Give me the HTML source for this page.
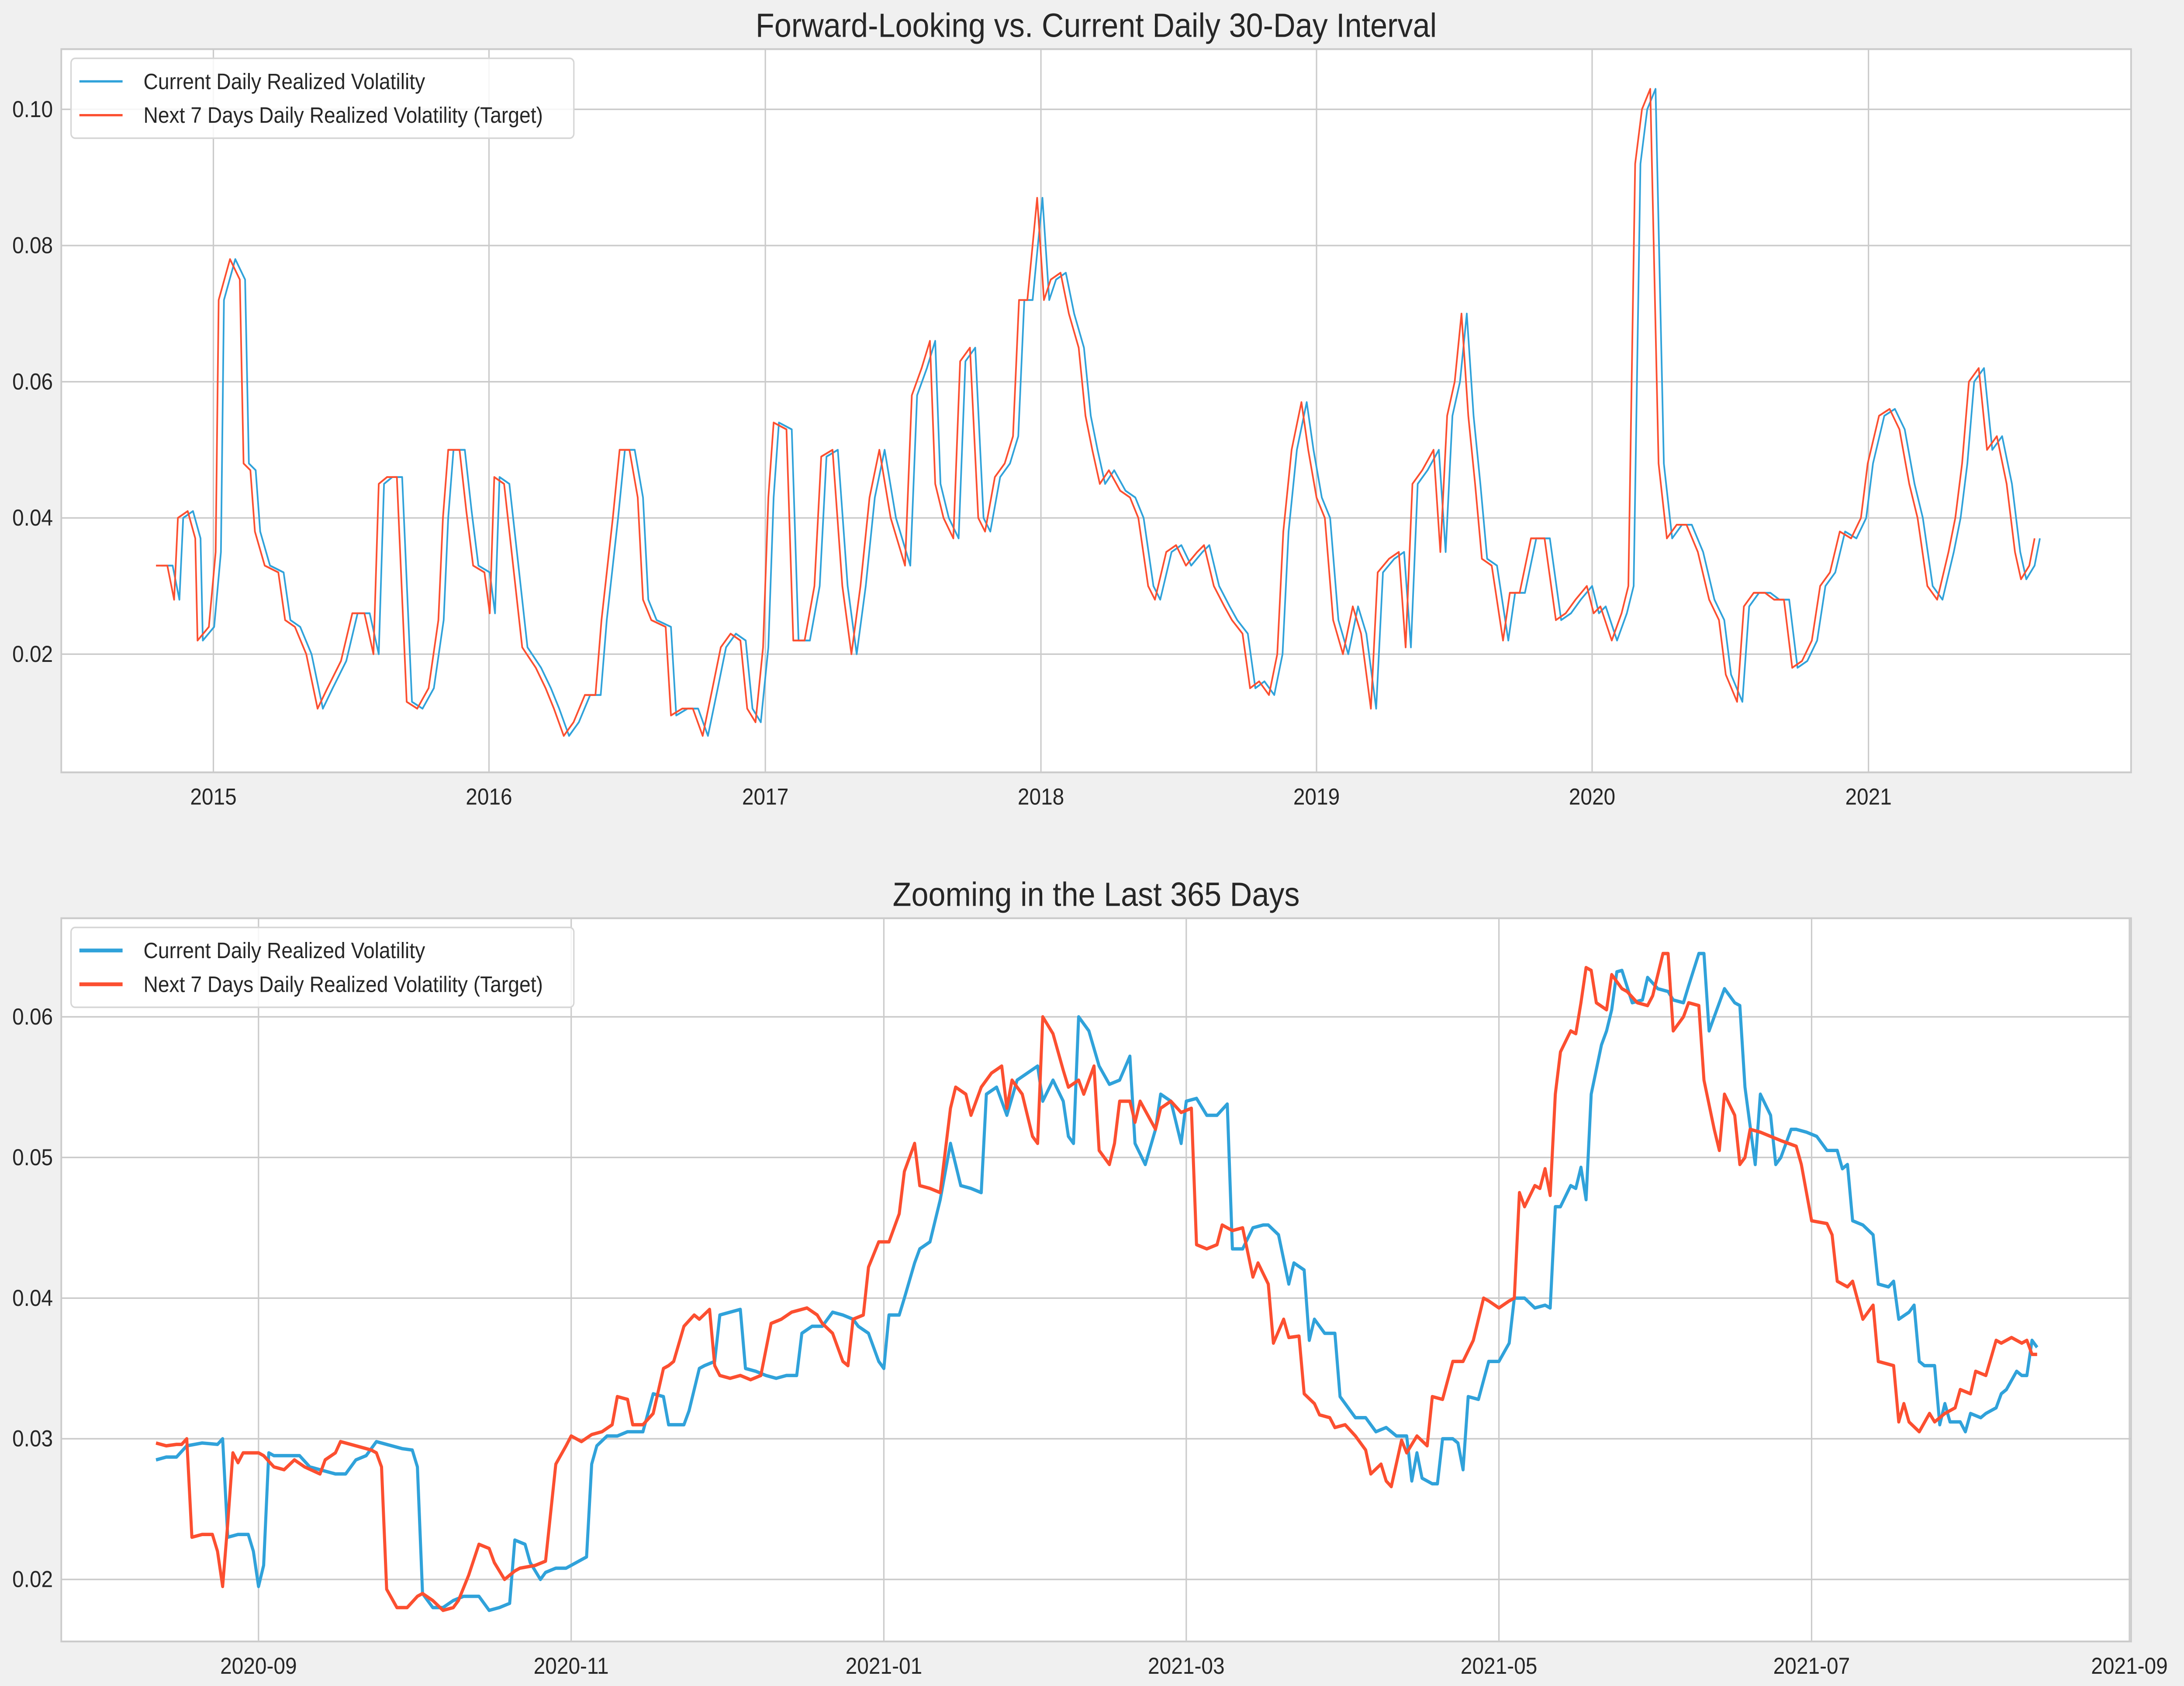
<!DOCTYPE html>
<html><head><meta charset="utf-8">
<style>
html,body{margin:0;padding:0;background:#f0f0f0;width:100%;height:100%;overflow:hidden;}
svg{display:block;position:fixed;left:0;top:0;width:100vw;height:100vh;font-family:"Liberation Sans",sans-serif;}
</style></head>
<body>
<svg id="fig" viewBox="0 0 1568 1098" preserveAspectRatio="none" xmlns="http://www.w3.org/2000/svg">
<rect x="0" y="0" width="1568" height="1098" fill="#f0f0f0"/>
<g id="top"></g>
<g id="bottom"></g>
</svg>
<script>
// ---------- TOP CHART DATA (days since 2014-10-17) ----------
const topDays = [0,15,24,29,42,52,55,70,79,83,98,111,116,125,131,144,162,171,184,199,214,227,245,260,276,288,295,306,319,332,346,361,374,380,387,402,411,420,435,442,448,461,475,485,503,516,527,540,553,568,582,590,605,614,627,638,645,656,675,682,697,711,724,737,748,761,774,783,794,804,811,818,835,844,859,872,881,896,909,921,933,945,958,973,992,1001,1014,1025,1032,1043,1056,1065,1078,1089,1098,1111,1124,1135,1143,1154,1167,1176,1185,1198,1209,1222,1231,1240,1250,1262,1277,1290,1301,1314,1323,1338,1351,1364,1379,1388,1401,1415,1425,1439,1449,1461,1474,1485,1493,1504,1517,1526,1537,1548,1559,1572,1585,1596,1609,1618,1633,1646,1655,1664,1677,1692,1701,1710,1720,1729,1738,1747,1756,1769,1784,1793,1806,1821,1839,1854,1867,1880,1895,1904,1913,1928,1941,1950,1959,1968,1979,1990,2001,2014,2027,2042,2057,2070,2079,2094,2103,2116,2131,2143,2156,2167,2180,2193,2204,2217,2230,2245,2258,2267,2282,2296,2309,2322,2333,2346,2359,2374,2383,2392,2401,2414,2425,2438,2451,2462,2470,2481,2488];
const topTarget = [0.033,0.033,0.028,0.040,0.041,0.037,0.022,0.024,0.035,0.072,0.078,0.075,0.048,0.047,0.038,0.033,0.032,0.025,0.024,0.020,0.012,0.015,0.019,0.026,0.026,0.020,0.045,0.046,0.046,0.013,0.012,0.015,0.025,0.040,0.050,0.050,0.041,0.033,0.032,0.026,0.046,0.045,0.031,0.021,0.018,0.015,0.012,0.008,0.010,0.014,0.014,0.025,0.040,0.050,0.050,0.043,0.028,0.025,0.024,0.011,0.012,0.012,0.008,0.015,0.021,0.023,0.022,0.012,0.010,0.021,0.043,0.054,0.053,0.022,0.022,0.030,0.049,0.050,0.030,0.020,0.030,0.043,0.050,0.040,0.033,0.058,0.062,0.066,0.045,0.040,0.037,0.063,0.065,0.040,0.038,0.046,0.048,0.052,0.072,0.072,0.087,0.072,0.075,0.076,0.070,0.065,0.055,0.050,0.045,0.047,0.044,0.043,0.040,0.030,0.028,0.035,0.036,0.033,0.035,0.036,0.030,0.027,0.025,0.023,0.015,0.016,0.014,0.020,0.038,0.050,0.057,0.050,0.043,0.040,0.025,0.020,0.027,0.023,0.012,0.032,0.034,0.035,0.021,0.045,0.047,0.050,0.035,0.055,0.060,0.070,0.055,0.045,0.034,0.033,0.022,0.029,0.029,0.037,0.037,0.025,0.026,0.028,0.030,0.026,0.027,0.022,0.026,0.030,0.092,0.100,0.103,0.048,0.037,0.039,0.039,0.035,0.028,0.025,0.017,0.013,0.027,0.029,0.029,0.028,0.028,0.018,0.019,0.022,0.030,0.032,0.038,0.037,0.040,0.048,0.055,0.056,0.053,0.045,0.040,0.030,0.028,0.035,0.040,0.048,0.060,0.062,0.050,0.052,0.045,0.035,0.031,0.033,0.037];
const topCurrent = topTarget.slice(); // realized series; plotted with forward lag
const topLagDays = 7;
const topYTicks = [0.02,0.04,0.06,0.08,0.10];
const topYLabels = ["0.02","0.04","0.06","0.08","0.10"];
const topXTickDays = [76,441,807,1172,1537,1902,2268];
const topXLabels = ["2015","2016","2017","2018","2019","2020","2021"];

// ---------- BOTTOM CHART DATA (days since 2020-08-12) ----------
const botTargetDays = [0,2,4,5,6,7,9,11,12,13,14,15,16,17,20,21,23,25,27,29,32,33,35,36,39,42,43,44,45,47,49,51,52,54,56,58,59,61,63,65,66,68,70,71,74,76,78,80,81,83,85,87,89,90,92,93,95,97,99,100,101,103,105,106,108,109,110,112,114,116,118,120,122,124,127,129,130,132,134,135,136,138,139,141,143,145,146,148,149,151,153,155,156,158,159,161,163,165,166,167,169,171,172,173,175,177,178,180,181,183,184,186,187,188,190,191,192,195,196,198,200,202,203,205,207,208,210,212,214,215,217,218,220,221,223,224,226,227,229,230,232,234,236,237,239,240,241,243,244,246,248,249,251,253,255,257,259,260,262,264,265,266,267,269,270,271,272,273,274,276,277,278,279,280,281,283,284,286,287,289,291,292,294,295,296,298,299,301,302,304,305,306,308,309,310,311,313,315,317,320,321,323,326,327,328,330,331,333,334,335,336,339,340,341,342,344,346,347,349,351,352,354,355,357,359,360,362,364,365,366,367];
const botTargetVals = [0.0297,0.0295,0.0296,0.0296,0.030,0.023,0.0232,0.0232,0.022,0.0195,0.024,0.029,0.0283,0.029,0.029,0.0288,0.028,0.0278,0.0285,0.028,0.0275,0.0285,0.029,0.0298,0.0295,0.0292,0.029,0.028,0.0193,0.018,0.018,0.0188,0.019,0.0185,0.0178,0.018,0.0185,0.0203,0.0225,0.0222,0.0212,0.020,0.0206,0.0208,0.021,0.0213,0.0282,0.0295,0.0302,0.0298,0.0303,0.0305,0.031,0.033,0.0328,0.031,0.031,0.0318,0.035,0.0352,0.0355,0.038,0.0388,0.0385,0.0392,0.0352,0.0345,0.0343,0.0345,0.0342,0.0345,0.0382,0.0385,0.039,0.0393,0.0388,0.0382,0.0375,0.0355,0.0352,0.0385,0.0388,0.0422,0.044,0.044,0.046,0.049,0.051,0.048,0.0478,0.0475,0.0535,0.055,0.0545,0.053,0.055,0.056,0.0565,0.0535,0.0555,0.0545,0.0515,0.051,0.060,0.0588,0.0562,0.055,0.0555,0.0545,0.0565,0.0505,0.0495,0.051,0.054,0.054,0.0525,0.054,0.052,0.0535,0.054,0.0532,0.0535,0.0438,0.0435,0.0438,0.0452,0.0448,0.045,0.0415,0.0425,0.041,0.0368,0.0385,0.0372,0.0373,0.0332,0.0325,0.0317,0.0315,0.0308,0.031,0.0302,0.0292,0.0275,0.0282,0.027,0.0266,0.0299,0.029,0.0302,0.0295,0.033,0.0328,0.0355,0.0355,0.037,0.040,0.0398,0.0393,0.0398,0.040,0.0475,0.0465,0.048,0.0478,0.0492,0.0473,0.0545,0.0575,0.059,0.0588,0.061,0.0635,0.0633,0.061,0.0605,0.063,0.062,0.0618,0.061,0.0608,0.0615,0.0645,0.0645,0.059,0.060,0.061,0.0608,0.0555,0.052,0.0505,0.0545,0.053,0.0495,0.050,0.052,0.0518,0.0515,0.0512,0.0508,0.0495,0.0455,0.0453,0.0445,0.0412,0.0408,0.0412,0.0385,0.039,0.0395,0.0355,0.0352,0.0312,0.0325,0.0312,0.0305,0.0318,0.0312,0.0318,0.0322,0.0335,0.0332,0.0348,0.0345,0.037,0.0368,0.0372,0.0368,0.037,0.036,0.036];
const botCurrentDays = [0,2,4,6,9,12,13,14,16,18,19,20,21,22,23,25,28,30,32,35,37,39,41,43,46,48,50,51,52,54,56,58,60,61,63,65,67,69,70,72,73,75,76,78,80,82,84,85,86,88,90,92,95,97,99,100,103,104,106,107,109,110,112,114,115,117,119,121,123,125,126,128,130,132,134,136,137,139,141,142,143,145,146,148,149,151,153,155,157,159,161,162,164,166,168,170,172,173,175,177,178,179,180,182,184,186,188,190,191,193,195,196,198,200,201,203,205,207,209,210,212,214,216,217,219,221,222,224,225,226,228,230,231,233,234,236,238,240,242,244,245,246,247,249,250,251,253,254,255,256,258,260,262,264,265,267,269,271,272,273,274,276,277,278,279,280,282,283,284,285,286,288,290,291,293,295,296,298,299,301,302,303,304,306,308,309,310,312,313,315,316,317,319,320,322,324,326,328,329,330,331,333,335,336,338,339,340,342,343,344,345,347,348,349,350,352,353,354,356,357,359,360,361,363,364,365,366,367];
const botCurrentVals = [0.0285,0.0287,0.0287,0.0295,0.0297,0.0296,0.030,0.023,0.0232,0.0232,0.022,0.0195,0.021,0.029,0.0288,0.0288,0.0288,0.028,0.0278,0.0275,0.0275,0.0285,0.0288,0.0298,0.0295,0.0293,0.0292,0.028,0.019,0.018,0.018,0.0185,0.0188,0.0188,0.0188,0.0178,0.018,0.0183,0.0228,0.0225,0.0212,0.020,0.0205,0.0208,0.0208,0.0212,0.0216,0.0282,0.0295,0.0302,0.0302,0.0305,0.0305,0.0332,0.033,0.031,0.031,0.032,0.035,0.0352,0.0355,0.0388,0.039,0.0392,0.035,0.0348,0.0345,0.0343,0.0345,0.0345,0.0375,0.038,0.038,0.039,0.0388,0.0385,0.038,0.0375,0.0355,0.035,0.0388,0.0388,0.040,0.0425,0.0435,0.044,0.047,0.051,0.048,0.0478,0.0475,0.0545,0.055,0.053,0.0555,0.056,0.0565,0.054,0.0555,0.054,0.0515,0.051,0.060,0.059,0.0565,0.0552,0.0555,0.0572,0.051,0.0495,0.052,0.0545,0.054,0.051,0.054,0.0542,0.053,0.053,0.0538,0.0435,0.0435,0.045,0.0452,0.0452,0.0445,0.041,0.0425,0.042,0.037,0.0385,0.0375,0.0375,0.033,0.032,0.0315,0.0315,0.0305,0.0308,0.0302,0.0302,0.027,0.029,0.0272,0.0268,0.0268,0.030,0.030,0.0297,0.0278,0.033,0.0328,0.0355,0.0355,0.0368,0.040,0.040,0.0393,0.0395,0.0393,0.0465,0.0465,0.048,0.0478,0.0493,0.047,0.0545,0.058,0.059,0.0605,0.0632,0.0633,0.061,0.0612,0.0628,0.062,0.0618,0.0612,0.061,0.0622,0.0645,0.0645,0.059,0.060,0.062,0.061,0.0608,0.055,0.0495,0.0545,0.053,0.0495,0.050,0.052,0.052,0.0518,0.0515,0.0505,0.0505,0.0492,0.0495,0.0455,0.0452,0.0445,0.041,0.0408,0.0412,0.0385,0.039,0.0395,0.0355,0.0352,0.0352,0.031,0.0325,0.0312,0.0312,0.0305,0.0318,0.0315,0.0318,0.0322,0.0332,0.0335,0.0348,0.0345,0.0345,0.037,0.0365];
const botYTicks = [0.02,0.03,0.04,0.05,0.06];
const botYLabels = ["0.02","0.03","0.04","0.05","0.06"];
const botXTickDays = [20,81,142,201,262,323,385];
const botXLabels = ["2020-09","2020-11","2021-01","2021-03","2021-05","2021-07","2021-09"];

const NS = "http://www.w3.org/2000/svg";
const BLUE = "#30a2da", RED = "#fc4f30";
function mk(parent, tag, attrs, text){
  const el = document.createElementNS(NS, tag);
  for (const k in attrs) el.setAttribute(k, attrs[k]);
  if (text !== undefined) el.textContent = text;
  parent.appendChild(el);
  return el;
}

function drawChart(gid, cfg){
  const g = document.getElementById(gid);
  const L=44, R=1530, T=cfg.top, B=cfg.bottom;
  const sx = d => cfg.x0 + d*cfg.pxPerDay;
  const sy = v => cfg.yRef - (v - cfg.vRef)*cfg.pxPerUnit;
  const bg = mk(g,'rect',{x:L,y:T,width:R-L,height:B-T,fill:'#ffffff'});
  
  
  cfg.yTicks.forEach((v,i)=>{
    const y = sy(v);
    const gl = mk(g,'line',{x1:L,x2:R,y1:y,y2:y,stroke:'#cbcbcb','stroke-width':1});
    
    
    const t = mk(g,'text',{x:L-6,y:y+5,'text-anchor':'end','font-size':15,fill:'#262626'},cfg.yLabels[i]);
    
    
  });
  cfg.xTicks.forEach((d,i)=>{
    const x = sx(d);
    const gl = mk(g,'line',{x1:x,x2:x,y1:T,y2:B,stroke:'#cbcbcb','stroke-width':1});
    
    
    const t = mk(g,'text',{x:x,y:B+21,'text-anchor':'middle','font-size':15,fill:'#262626'},cfg.xLabels[i]);
    
    
  });
  const fr = mk(g,'rect',{x:L,y:T,width:R-L,height:B-T,fill:'none',stroke:'#cbcbcb','stroke-width':1.2});
  
  
  cfg.series.forEach(s=>{
    const pts = s.days.map((d,i)=> sx(d + (s.lag||0)).toFixed(2)+','+sy(s.vals[i]).toFixed(2)).join(' ');
    const pl = mk(g,'polyline',{points:pts,fill:'none',stroke:s.color,'stroke-width':cfg.lw,'stroke-linejoin':'round'});
    
    
  });
  const title = mk(g,'text',{x:(L+R)/2,y:T-8,'text-anchor':'middle','font-size':22,fill:'#262626'},cfg.title);
  
  
  const lg = mk(g,'g',{});
  
  
  mk(lg,'rect',{x:51,y:T+6,width:361,height:52,rx:3,fill:'#ffffff','fill-opacity':0.85,stroke:'#d6d6d6','stroke-width':1});
  const ents = [["Current Daily Realized Volatility",BLUE],["Next 7 Days Daily Realized Volatility (Target)",RED]];
  ents.forEach((e,i)=>{
    const y = T+21+i*22;
    const ent = mk(lg,'g',{});
    
    
    mk(ent,'line',{x1:57,x2:88,y1:y,y2:y,stroke:e[1],'stroke-width':cfg.lw+0.3});
    mk(ent,'text',{x:103,y:y+5,'font-size':14.5,fill:'#262626'},e[0]);
  });
}

drawChart('top',{top:32,bottom:503,x0:112,pxPerDay:198/365.25,yRef:426,vRef:0.02,pxPerUnit:4435,
  yTicks:topYTicks,yLabels:topYLabels,xTicks:topXTickDays,xLabels:topXLabels,lw:1.2,
  title:"Forward-Looking vs. Current Daily 30-Day Interval",
  series:[{name:'current-volatility-line',days:topDays,vals:topCurrent,color:BLUE,lag:topLagDays},
          {name:'target-volatility-line',days:topDays,vals:topTarget,color:RED}]});
drawChart('bottom',{top:598,bottom:1069,x0:112,pxPerDay:3.68,yRef:937,vRef:0.03,pxPerUnit:9160,
  yTicks:botYTicks,yLabels:botYLabels,xTicks:botXTickDays,xLabels:botXLabels,lw:2.2,
  title:"Zooming in the Last 365 Days",
  series:[{name:'current-volatility-line',days:botCurrentDays,vals:botCurrentVals,color:BLUE},
          {name:'target-volatility-line',days:botTargetDays,vals:botTargetVals,color:RED}]});
</script>
</body></html>
